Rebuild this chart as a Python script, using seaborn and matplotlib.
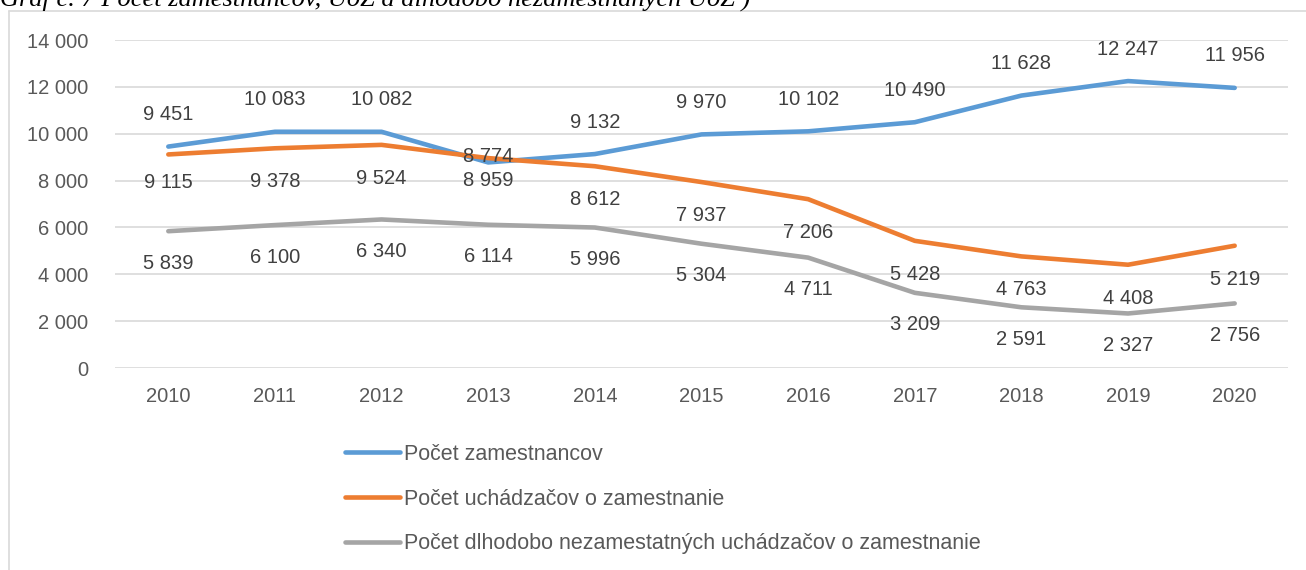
import pandas as pd
import numpy as np
import matplotlib.pyplot as plt
import seaborn as sns
from matplotlib.lines import Line2D

years = [2010, 2011, 2012, 2013, 2014, 2015, 2016, 2017, 2018, 2019, 2020]
zamestnanci = [9451, 10083, 10082, 8774, 9132, 9970, 10102, 10490, 11628, 12247, 11956]
uchadzaci = [9115, 9378, 9524, 8959, 8612, 7937, 7206, 5428, 4763, 4408, 5219]
dlhodobi = [5839, 6100, 6340, 6114, 5996, 5304, 4711, 3209, 2591, 2327, 2756]

names = ["Počet zamestnancov",
         "Počet uchádzačov o zamestnanie",
         "Počet dlhodobo nezamestatných uchádzačov o zamestnanie"]
colors = ["#5B9BD5", "#ED7D31", "#A5A5A5"]

df = pd.DataFrame({
    "rok": years * 3,
    "hodnota": zamestnanci + uchadzaci + dlhodobi,
    "seria": [names[0]] * 11 + [names[1]] * 11 + [names[2]] * 11,
})

sns.set_style("white")
plt.rcParams['font.family'] = ['Liberation Sans', 'DejaVu Sans']

fig = plt.figure(figsize=(13.06, 5.70), dpi=100)
ax = fig.add_axes([115 / 1306, 1 - 368 / 570, (1288 - 115) / 1306, (368 - 40) / 570])

sns.lineplot(data=df, x="rok", y="hodnota", hue="seria", palette=colors,
             linewidth=3.3, ax=ax, legend=False, solid_capstyle='round')

ax.set_xlim(2009.5, 2020.5)
ax.set_ylim(0, 14000)
ax.set_yticks(np.arange(0, 14001, 2000))
ax.set_yticklabels([f"{v:,}".replace(",", " ") for v in range(0, 14001, 2000)])
ax.set_xticks(years)
ax.set_xlabel("")
ax.set_ylabel("")
ax.grid(axis='y', color='#d9d9d9', linewidth=1.2)
ax.grid(axis='x', visible=False)
ax.set_axisbelow(True)
for s in ax.spines.values():
    s.set_visible(False)
ax.tick_params(axis='both', length=0, labelsize=14.5, labelcolor='#595959')
ax.tick_params(axis='x', pad=14)
ax.tick_params(axis='y', pad=19)

# data labels
series = [zamestnanci, uchadzaci, dlhodobi]
offsets = [23, -24, -23]
overrides = {(0, 2013): 4, (1, 2013): -16, (1, 2010): -20}
for i, vals in enumerate(series):
    for x, v in zip(years, vals):
        dy = overrides.get((i, x), offsets[i])
        ax.annotate(f"{v:,}".replace(",", " "), (x, v), xytext=(0, dy),
                    textcoords='offset points', ha='center', va='center',
                    fontsize=14.5, color='#404040')

handles = [Line2D([0], [0], color=c, linewidth=3.3) for c in colors]
fig.legend(handles, names, loc='upper left',
           bbox_to_anchor=(345 / 1306, 1 - 444 / 570), frameon=False,
           fontsize=15.5, labelcolor='#595959', handlelength=2.55,
           handletextpad=0.2, labelspacing=1.1, borderpad=0, borderaxespad=0)

# chart frame (left and top border)
fig.add_artist(Line2D([9 / 1306, 9 / 1306], [0, 1 - 11 / 570],
                      transform=fig.transFigure, color='#d9d9d9', linewidth=1.2))
fig.add_artist(Line2D([9 / 1306, 1], [1 - 11 / 570, 1 - 11 / 570],
                      transform=fig.transFigure, color='#d9d9d9', linewidth=1.2))

# caption, cut off at the top like in the source
fig.text(0.0, 1 - 6 / 570, "Graf č. 7 Počet zamestnancov, UoZ a dlhodobo nezamestnaných UoZ )",
         family=['Liberation Serif', 'DejaVu Serif'], style='italic',
         fontsize=19, va='baseline', ha='left', color='black')

fig.savefig("out.png", dpi=100)
